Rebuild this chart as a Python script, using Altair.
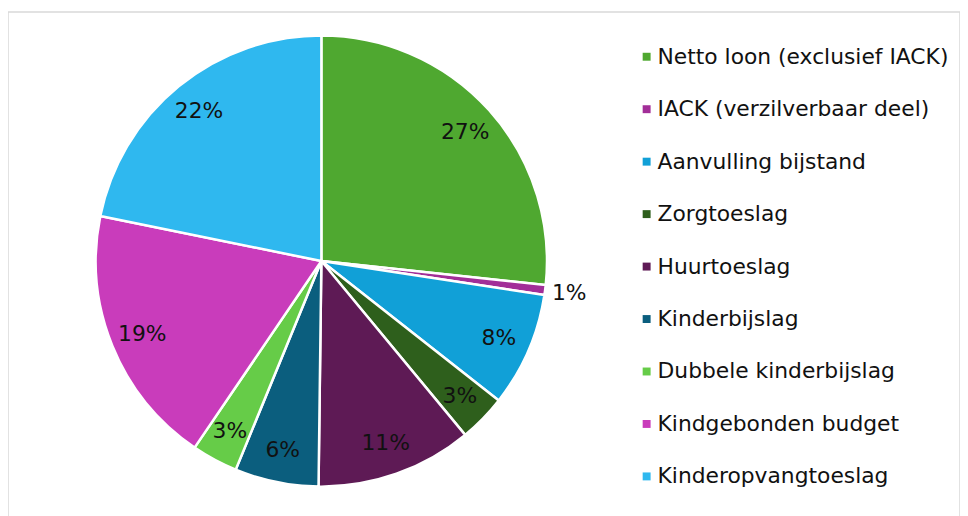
import altair as alt
import pandas as pd

categories = [
    "Netto loon (exclusief IACK)",
    "IACK (verzilverbaar deel)",
    "Aanvulling bijstand",
    "Zorgtoeslag",
    "Huurtoeslag",
    "Kinderbijslag",
    "Dubbele kinderbijslag",
    "Kindgebonden budget",
    "Kinderopvangtoeslag",
]
values = [26.7, 0.7, 8.2, 3.4, 11.2, 6.0, 3.3, 18.7, 21.8]
labels = ["27%", "1%", "8%", "3%", "11%", "6%", "3%", "19%", "22%"]
colors = ["#4FA830", "#A22E98", "#11A0D7", "#2E5F1C", "#5E1A55",
          "#0B5E7E", "#66CC48", "#C93CBB", "#2FB8EF"]

df = pd.DataFrame({"cat": categories, "value": values, "label": labels,
                   "order": list(range(len(categories)))})

FONT = "DejaVu Sans"
CX, CY = 316, 251

base = alt.Chart(df).encode(
    theta=alt.Theta("value:Q", stack=True),
    order=alt.Order("order:Q"),
    x=alt.value(CX),
    y=alt.value(CY),
)

arcs = base.mark_arc(radius=227.5, stroke="white", strokeWidth=2.5).encode(
    color=alt.Color(
        "cat:N",
        scale=alt.Scale(domain=categories, range=colors),
        sort=categories,
        legend=alt.Legend(title=None),
    )
)

text_in = base.transform_calculate(
    t="datum.value >= 1 ? datum.label : ''"
).mark_text(font=FONT, fontSize=22, color="#111111", radius=195).encode(
    text="t:N",
)

text_out = base.transform_calculate(
    t="datum.value < 1 ? datum.label : ''"
).mark_text(font=FONT, fontSize=22, color="#111111", radius=252).encode(
    text="t:N",
)

chart = (
    alt.layer(arcs, text_in, text_out)
    .properties(width=960, height=510, autosize="none",
                padding={"left": 0, "top": 2, "right": 0, "bottom": 0})
    .configure_view(stroke="#d9d9d9", strokeWidth=1.5)
    .configure_legend(
        orient="none", legendX=633, legendY=34, padding=0,
        symbolType="square", symbolSize=64, symbolStrokeWidth=0,
        labelFont=FONT, labelFontSize=22, labelColor="#111111",
        labelOffset=0, rowPadding=30.9, labelLimit=400,
    )
)

chart.save("out.html", embed_options={"renderer": "svg", "actions": False})
